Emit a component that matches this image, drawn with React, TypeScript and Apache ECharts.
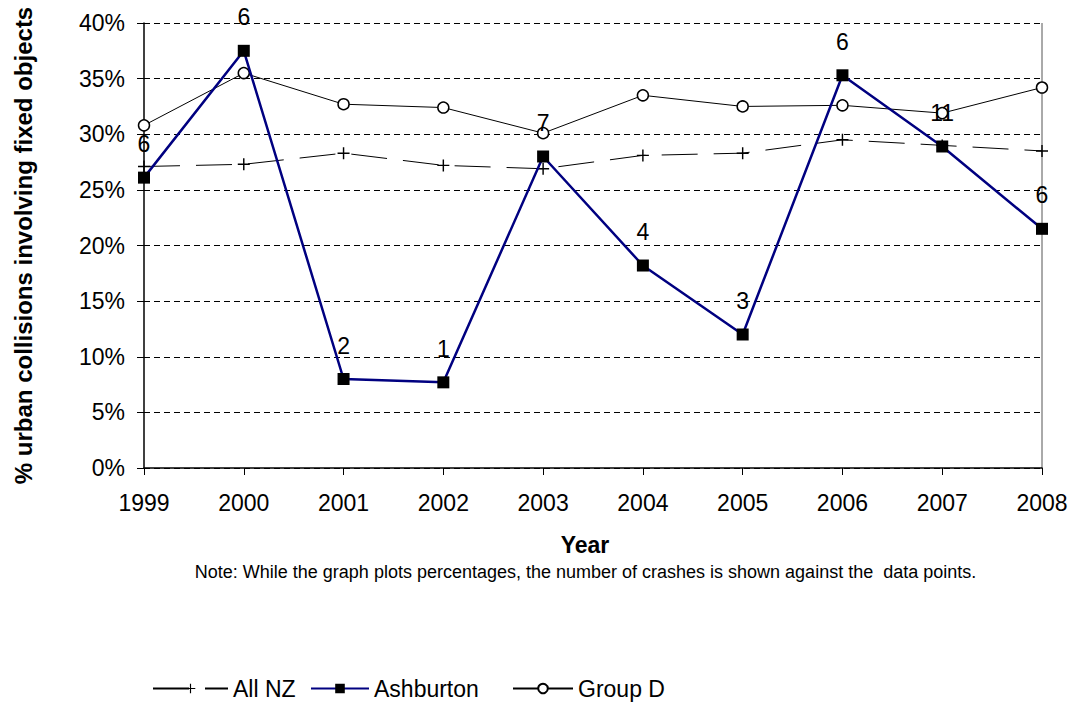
import React, { useEffect, useRef } from "react";
import * as echarts from "echarts";

const years = ["1999", "2000", "2001", "2002", "2003", "2004", "2005", "2006", "2007", "2008"];
const allNZ = [27.1, 27.3, 28.3, 27.2, 26.9, 28.1, 28.3, 29.5, 29.0, 28.5];
const ashburton = [26.1, 37.5, 8.0, 7.7, 28.0, 18.2, 12.0, 35.3, 28.9, 21.5];
const groupD = [30.8, 35.5, 32.7, 32.4, 30.1, 33.5, 32.5, 32.6, 31.9, 34.2];
const ashburtonCounts = ["6", "6", "2", "1", "7", "4", "3", "6", "11", "6"];
const yTicks = [0, 5, 10, 15, 20, 25, 30, 35, 40];

const FONT = "Liberation Sans, Arial, sans-serif";
const PLUS = "path://M4.4,0h1.2v10h-1.2z M0,4.4h10v1.2h-10z";

export default function App() {
  const ref = useRef<HTMLDivElement>(null);
  useEffect(() => {
    if (!ref.current) return;
    const chart = echarts.init(ref.current, undefined, { renderer: "svg" });
    const legendText = { fontFamily: FONT, fontSize: 23, color: "#000" };
    chart.setOption({
      animation: false,
      backgroundColor: "#ffffff",
      textStyle: { fontFamily: FONT, color: "#000" },
      grid: { left: 144, right: 31, top: 23, bottom: 235, outerBoundsMode: "none" },
      xAxis: {
        type: "category",
        data: years,
        boundaryGap: false,
        name: "Year",
        nameLocation: "middle",
        nameGap: 65,
        nameTextStyle: { fontFamily: FONT, fontSize: 23, fontWeight: "bold", color: "#000", padding: [0, 16, 0, 0] },
        axisLine: { lineStyle: { color: "#000", width: 1.5 } },
        axisTick: { show: true, length: 7, alignWithLabel: true, lineStyle: { color: "#000" } },
        axisLabel: { fontFamily: FONT, fontSize: 23, color: "#000", margin: 23 },
        splitLine: { show: false },
      },
      yAxis: {
        type: "value",
        min: yTicks[0],
        max: yTicks[yTicks.length - 1],
        interval: 5,
        name: "% urban collisions involving fixed objects",
        nameLocation: "middle",
        nameGap: 109,
        nameTextStyle: { fontFamily: FONT, fontSize: 24, fontWeight: "bold", color: "#000" },
        axisLine: { show: true, lineStyle: { color: "#000", width: 1.5 } },
        axisTick: { show: true, length: 7, lineStyle: { color: "#000" } },
        axisLabel: { fontFamily: FONT, fontSize: 23, color: "#000", margin: 19, formatter: (v: number) => v + "%" },
        splitLine: { show: true, lineStyle: { color: "#000", type: [6, 4], width: 1 } },
      },
      legend: [
        { data: ["All NZ"], left: 147, top: 672, itemWidth: 75, itemHeight: 12, textStyle: legendText },
        { data: ["Ashburton"], left: 305, top: 672, itemWidth: 58, itemHeight: 12, textStyle: legendText },
        { data: ["Group D"], left: 507, top: 672, itemWidth: 60, itemHeight: 12, textStyle: legendText },
      ],
      graphic: [
        {
          type: "text",
          x: 585.5,
          y: 572,
          style: {
            text: "Note: While the graph plots percentages, the number of crashes is shown against the  data points.",
            font: "18px " + FONT,
            fill: "#000",
            align: "center",
            verticalAlign: "middle",
          },
        },
        {
          type: "line",
          shape: { x1: 1042, y1: 23, x2: 1042, y2: 468 },
          style: { stroke: "#555", lineWidth: 1 },
          silent: true,
        },
      ],
      series: [
        {
          name: "All NZ",
          type: "line",
          data: allNZ,
          symbol: PLUS,
          symbolSize: 12,
          itemStyle: { color: "#000" },
          lineStyle: { color: "#000", width: 1, type: [36, 16] },
          z: 2,
        },
        {
          name: "Group D",
          type: "line",
          data: groupD,
          symbol: "circle",
          symbolSize: 11,
          showAllSymbol: true,
          itemStyle: { color: "#fff", borderColor: "#000", borderWidth: 1.5 },
          lineStyle: { color: "#000", width: 1 },
          z: 3,
        },
        {
          name: "Ashburton",
          type: "line",
          data: ashburton,
          symbol: "rect",
          symbolSize: 12,
          itemStyle: { color: "#000" },
          lineStyle: { color: "#000080", width: 2.5 },
          label: {
            show: true,
            position: "top",
            distance: 16,
            fontFamily: FONT,
            fontSize: 23,
            color: "#000",
            formatter: (p: any) => ashburtonCounts[p.dataIndex],
          },
          z: 4,
        },
      ],
    });
    return () => chart.dispose();
  }, []);
  return <div ref={ref} style={{ width: 1073, height: 703, position: "absolute", left: 0, top: 0 }} />;
}
